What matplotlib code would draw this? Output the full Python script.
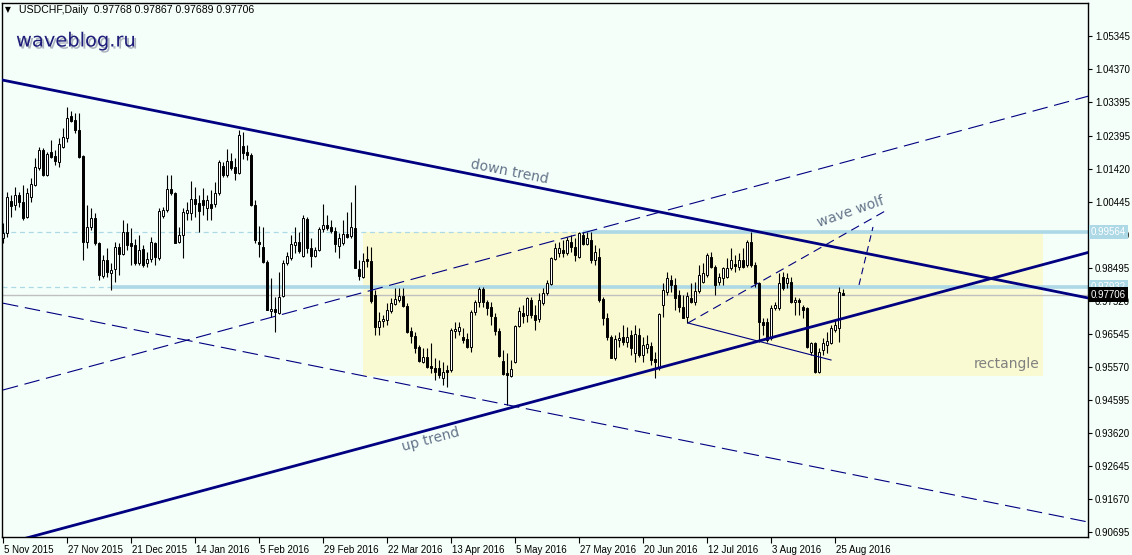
import matplotlib
matplotlib.use('Agg')
import matplotlib.pyplot as plt
import matplotlib.patheffects as pe
import matplotlib.transforms as mtransforms
from matplotlib.patches import Rectangle

# ---------------- data ----------------
symbol_header = "USDCHF,Daily  0.97768 0.97867 0.97689 0.97706"

opens = [
    0.9938, 0.9953, 1.0047, 1.0035, 1.0065, 1.0044, 1.0000, 1.0059, 1.0094, 1.0145,
    1.0198, 1.0124, 1.0192, 1.0180, 1.0162, 1.0207, 1.0233, 1.0298, 1.0286, 1.0257,
    1.0180, 0.9926, 0.9970, 0.9997, 0.9923, 0.9826, 0.9873, 0.9835, 0.9846, 0.9911,
    0.9891, 0.9956, 0.9923, 0.9917, 0.9864, 0.9905, 0.9864, 0.9876, 0.9923, 0.9879,
    1.0003, 1.0021, 1.0083, 1.0071, 0.9926, 0.9947, 1.0012, 1.0012, 1.0053, 1.0041,
    1.0050, 1.0027, 1.0038, 1.0038, 1.0071, 1.0151, 1.0124, 1.0165, 1.0148, 1.0130,
    1.0210, 1.0192, 1.0183, 1.0035, 0.9926, 0.9911, 0.9867, 0.9722, 0.9728, 0.9716,
    0.9767, 0.9864, 0.9879, 0.9917, 0.9926, 0.9885, 0.9994, 0.9908, 0.9885, 0.9902,
    0.9965, 0.9976, 0.9970, 0.9959, 0.9914, 0.9923, 0.9950, 0.9944, 0.9967, 0.9846,
    0.9823, 0.9876, 0.9870, 0.9770, 0.9675, 0.9693, 0.9696, 0.9722, 0.9743, 0.9755,
    0.9767, 0.9737, 0.9663, 0.9648, 0.9616, 0.9572, 0.9586, 0.9560, 0.9554, 0.9554,
    0.9524, 0.9548, 0.9548, 0.9663, 0.9663, 0.9645, 0.9640, 0.9616, 0.9719, 0.9749,
    0.9787, 0.9749, 0.9734, 0.9705, 0.9663, 0.9575, 0.9539, 0.9530, 0.9572, 0.9678,
    0.9716, 0.9710, 0.9755, 0.9710, 0.9699, 0.9746, 0.9775, 0.9802, 0.9876, 0.9894,
    0.9902, 0.9894, 0.9926, 0.9911, 0.9882, 0.9947, 0.9920, 0.9932, 0.9873, 0.9882,
    0.9758, 0.9702, 0.9646, 0.9583, 0.9637, 0.9646, 0.9631, 0.9651, 0.9598, 0.9651,
    0.9592, 0.9613, 0.9619, 0.9580, 0.9554, 0.9740, 0.9778, 0.9814, 0.9799, 0.9770,
    0.9734, 0.9705, 0.9761, 0.9749, 0.9781, 0.9808, 0.9829, 0.9882, 0.9852, 0.9808,
    0.9820, 0.9823, 0.9849, 0.9861, 0.9852, 0.9873, 0.9858, 0.9926, 0.9858, 0.9805,
    0.9690, 0.9690, 0.9643, 0.9731, 0.9731, 0.9823, 0.9805, 0.9808, 0.9749, 0.9755,
    0.9734, 0.9731, 0.9601, 0.9628, 0.9542, 0.9607, 0.9622, 0.9628, 0.9666, 0.9672,
    0.97768,
]
highs = [
    0.9982, 1.0074, 1.0065, 1.0088, 1.0074, 1.0094, 1.0086, 1.0115, 1.0174, 1.0207,
    1.0204, 1.0192, 1.0227, 1.0198, 1.0233, 1.0263, 1.0325, 1.0313, 1.0307, 1.0307,
    1.0183, 1.0035, 1.0027, 1.0012, 0.9926, 0.9888, 0.9908, 0.9864, 0.9926, 0.9923,
    0.9991, 0.9982, 0.9967, 0.9935, 0.9947, 0.9917, 0.9897, 0.9941, 0.9926, 1.0027,
    1.0030, 1.0124, 1.0124, 1.0074, 0.9970, 1.0027, 1.0044, 1.0106, 1.0088, 1.0065,
    1.0086, 1.0065, 1.0080, 1.0103, 1.0168, 1.0162, 1.0201, 1.0189, 1.0174, 1.0257,
    1.0251, 1.0213, 1.0189, 1.0050, 0.9973, 0.9970, 0.9873, 0.9820, 0.9764, 0.9838,
    0.9873, 0.9897, 0.9947, 0.9970, 0.9956, 1.0006, 1.0000, 0.9938, 0.9911, 0.9970,
    1.0038, 1.0006, 0.9991, 0.9970, 0.9953, 0.9991, 1.0015, 1.0044, 1.0094, 0.9873,
    0.9894, 0.9914, 0.9911, 0.9784, 0.9719, 0.9710, 0.9746, 0.9761, 0.9790, 0.9790,
    0.9790, 0.9746, 0.9675, 0.9660, 0.9622, 0.9613, 0.9613, 0.9628, 0.9583, 0.9578,
    0.9572, 0.9563, 0.9672, 0.9690, 0.9690, 0.9672, 0.9657, 0.9725, 0.9755, 0.9793,
    0.9793, 0.9755, 0.9749, 0.9716, 0.9672, 0.9607, 0.9598, 0.9578, 0.9681, 0.9734,
    0.9740, 0.9764, 0.9764, 0.9740, 0.9775, 0.9790, 0.9814, 0.9882, 0.9923, 0.9926,
    0.9932, 0.9941, 0.9947, 0.9938, 0.9956, 0.9956, 0.9956, 0.9956, 0.9917, 0.9908,
    0.9764, 0.9716, 0.9651, 0.9651, 0.9660, 0.9681, 0.9675, 0.9666, 0.9681, 0.9672,
    0.9646, 0.9651, 0.9631, 0.9601, 0.9716, 0.9805, 0.9838, 0.9829, 0.9820, 0.9784,
    0.9770, 0.9778, 0.9805, 0.9808, 0.9858, 0.9864, 0.9894, 0.9897, 0.9858, 0.9835,
    0.9852, 0.9879, 0.9908, 0.9888, 0.9894, 0.9908, 0.9932, 0.9956, 0.9867, 0.9808,
    0.9702, 0.9702, 0.9740, 0.9749, 0.9835, 0.9838, 0.9835, 0.9823, 0.9764, 0.9761,
    0.9740, 0.9734, 0.9631, 0.9631, 0.9613, 0.9643, 0.9660, 0.9681, 0.9696, 0.9793,
    0.97867,
]
lows = [
    0.9923, 0.9941, 1.0000, 1.0021, 1.0030, 0.9991, 0.9997, 1.0044, 1.0091, 1.0139,
    1.0121, 1.0121, 1.0174, 1.0154, 1.0148, 1.0204, 1.0221, 1.0281, 1.0248, 1.0174,
    0.9873, 0.9908, 0.9962, 0.9917, 0.9814, 0.9820, 0.9823, 0.9784, 0.9808, 0.9829,
    0.9888, 0.9902, 0.9858, 0.9858, 0.9858, 0.9852, 0.9852, 0.9867, 0.9858, 0.9873,
    0.9997, 1.0015, 1.0065, 0.9923, 0.9923, 0.9879, 0.9991, 0.9991, 1.0000, 0.9956,
    1.0006, 0.9991, 0.9991, 1.0030, 1.0065, 1.0118, 1.0118, 1.0139, 1.0109, 1.0127,
    1.0171, 1.0168, 1.0032, 0.9923, 0.9882, 0.9864, 0.9725, 0.9705, 0.9660, 0.9713,
    0.9764, 0.9858, 0.9873, 0.9894, 0.9894, 0.9882, 0.9894, 0.9852, 0.9882, 0.9900,
    0.9956, 0.9962, 0.9953, 0.9897, 0.9879, 0.9917, 0.9938, 0.9938, 0.9849, 0.9814,
    0.9820, 0.9852, 0.9746, 0.9651, 0.9651, 0.9675, 0.9681, 0.9716, 0.9740, 0.9749,
    0.9734, 0.9657, 0.9628, 0.9598, 0.9572, 0.9569, 0.9554, 0.9539, 0.9518, 0.9524,
    0.9504, 0.9498, 0.9542, 0.9643, 0.9651, 0.9628, 0.9613, 0.9601, 0.9710, 0.9734,
    0.9734, 0.9710, 0.9681, 0.9651, 0.9586, 0.9533, 0.9445, 0.9527, 0.9569, 0.9675,
    0.9687, 0.9690, 0.9702, 0.9666, 0.9690, 0.9740, 0.9770, 0.9799, 0.9873, 0.9882,
    0.9882, 0.9888, 0.9897, 0.9870, 0.9879, 0.9917, 0.9917, 0.9864, 0.9858, 0.9749,
    0.9681, 0.9637, 0.9583, 0.9578, 0.9616, 0.9622, 0.9616, 0.9592, 0.9572, 0.9586,
    0.9572, 0.9598, 0.9563, 0.9524, 0.9548, 0.9705, 0.9770, 0.9778, 0.9725, 0.9719,
    0.9702, 0.9687, 0.9746, 0.9740, 0.9775, 0.9805, 0.9823, 0.9849, 0.9770, 0.9799,
    0.9799, 0.9820, 0.9843, 0.9838, 0.9843, 0.9849, 0.9852, 0.9852, 0.9793, 0.9631,
    0.9651, 0.9631, 0.9637, 0.9725, 0.9725, 0.9784, 0.9790, 0.9746, 0.9710, 0.9710,
    0.9702, 0.9613, 0.9592, 0.9539, 0.9539, 0.9592, 0.9598, 0.9625, 0.9660, 0.9631,
    0.97689,
]
closes = [
    0.9953, 1.0059, 1.0032, 1.0065, 1.0044, 0.9997, 1.0071, 1.0097, 1.0148, 1.0198,
    1.0124, 1.0186, 1.0177, 1.0165, 1.0216, 1.0236, 1.0292, 1.0283, 1.0257, 1.0177,
    0.9926, 0.9970, 0.9997, 0.9923, 0.9829, 0.9873, 0.9838, 0.9843, 0.9911, 0.9891,
    0.9956, 0.9917, 0.9914, 0.9864, 0.9902, 0.9858, 0.9876, 0.9926, 0.9882, 1.0018,
    1.0021, 1.0083, 1.0071, 0.9923, 0.9947, 1.0015, 1.0021, 1.0053, 1.0038, 1.0018,
    1.0035, 1.0050, 1.0027, 1.0071, 1.0162, 1.0124, 1.0165, 1.0145, 1.0130, 1.0242,
    1.0189, 1.0183, 1.0035, 0.9932, 0.9920, 0.9867, 0.9725, 0.9728, 0.9719, 0.9764,
    0.9864, 0.9885, 0.9920, 0.9926, 0.9900, 0.9997, 0.9908, 0.9885, 0.9902, 0.9965,
    0.9976, 0.9967, 0.9959, 0.9920, 0.9938, 0.9950, 0.9941, 0.9970, 0.9849, 0.9826,
    0.9870, 0.9870, 0.9752, 0.9675, 0.9693, 0.9699, 0.9725, 0.9746, 0.9758, 0.9767,
    0.9737, 0.9660, 0.9648, 0.9613, 0.9575, 0.9586, 0.9557, 0.9554, 0.9542, 0.9533,
    0.9542, 0.9542, 0.9666, 0.9669, 0.9675, 0.9637, 0.9616, 0.9719, 0.9749, 0.9787,
    0.9749, 0.9731, 0.9708, 0.9663, 0.9589, 0.9536, 0.9533, 0.9551, 0.9678, 0.9722,
    0.9708, 0.9761, 0.9710, 0.9696, 0.9755, 0.9775, 0.9805, 0.9879, 0.9908, 0.9908,
    0.9894, 0.9932, 0.9911, 0.9888, 0.9953, 0.9920, 0.9938, 0.9873, 0.9897, 0.9755,
    0.9702, 0.9646, 0.9583, 0.9640, 0.9643, 0.9631, 0.9646, 0.9613, 0.9654, 0.9592,
    0.9622, 0.9625, 0.9578, 0.9572, 0.9713, 0.9784, 0.9820, 0.9799, 0.9761, 0.9734,
    0.9702, 0.9767, 0.9749, 0.9781, 0.9829, 0.9835, 0.9888, 0.9852, 0.9799, 0.9823,
    0.9849, 0.9849, 0.9873, 0.9855, 0.9873, 0.9852, 0.9926, 0.9858, 0.9805, 0.9690,
    0.9681, 0.9637, 0.9731, 0.9740, 0.9805, 0.9790, 0.9820, 0.9749, 0.9755, 0.9749,
    0.9725, 0.9616, 0.9628, 0.9542, 0.9601, 0.9628, 0.9634, 0.9672, 0.9681, 0.9778,
    0.97706,
]

x_tick_labels = ["5 Nov 2015", "27 Nov 2015", "21 Dec 2015", "14 Jan 2016", "5 Feb 2016",
                 "29 Feb 2016", "22 Mar 2016", "13 Apr 2016", "5 May 2016", "27 May 2016",
                 "20 Jun 2016", "12 Jul 2016", "3 Aug 2016", "25 Aug 2016"]
y_tick_values = [1.05345, 1.04370, 1.03395, 1.02395, 1.01420, 1.00445, 0.99470, 0.98495,
                 0.97520, 0.96545, 0.95570, 0.94595, 0.93620, 0.92645, 0.91670, 0.90695]

# levels / objects (bar index, price)
resist_level = 0.99564
support_level = 0.97932
bid_price = 0.97706
rect_x = [90, 260]
rect_y = [0.9531, 0.99564]
down_trend = [(0, 1.0404), (272, 0.9759)]
up_trend = [(0, 0.9033), (272, 0.98974)]
down_channel = [(0, 0.97453), (272, 0.90972)]
up_channel = [(0, 0.94889), (272, 1.03589)]
wolf_line = [(171.25, 0.96868), (207.0, 0.95775)]
wolf_dash = [(171.25, 0.96868), (221.0, 1.00206)]
wolf_target = [(214.0, 0.97991), (217.5, 0.99704)]

# ---------------- figure ----------------
FONT = 'Liberation Sans'
BG = '#F5FFFA'
NAVY = '#000080'
LBLUE = '#ADD8E6'
W, H = 1132, 555
fig = plt.figure(figsize=(W / 100, H / 100), dpi=100, facecolor=BG)
left, right, top, bottom = 2, 1088, 3, 537
ax = fig.add_axes([left / W, 1 - bottom / H, (right - left) / W, (bottom - top) / H], facecolor=BG)
ax.set_xlim(-0.25, (right - 3) / 4)
ax.set_ylim(0.90547, 1.06319)

# rectangle (background object)
ax.add_patch(Rectangle((rect_x[0], rect_y[0]), rect_x[1] - rect_x[0], rect_y[1] - rect_y[0],
                       facecolor='#FAFAD2', edgecolor='none', zorder=0.5))

# horizontal levels
ax.axhline(resist_level, color=LBLUE, lw=0.9, ls=(0, (4, 3)), zorder=1)
ax.axhline(support_level, color=LBLUE, lw=0.9, ls=(0, (4, 3)), zorder=1)
ax.plot([145, 300], [resist_level, resist_level], color=LBLUE, lw=2.6, zorder=1.2,
        solid_capstyle='butt')
ax.plot([27, 300], [support_level, support_level], color=LBLUE, lw=2.6, zorder=1.2,
        solid_capstyle='butt')
ax.axhline(bid_price, color='#C0C0C0', lw=1.0, zorder=1.1)

# candles
n = len(closes)
idx = list(range(n))
ax.vlines(idx, lows, highs, color='black', lw=0.8, zorder=2)
for i in idx:
    o, c = opens[i], closes[i]
    bot = min(o, c)
    hgt = max(abs(c - o), 0.00004)
    fc = 'white' if c >= o else 'black'
    ax.add_patch(Rectangle((i - 0.28, bot), 0.56, hgt, facecolor=fc, edgecolor='black',
                           lw=0.7, zorder=2.1))

# trend lines
def seg(pts, **kw):
    ax.plot([p[0] for p in pts], [p[1] for p in pts], **kw)

seg(down_trend, color=NAVY, lw=2.0, zorder=3)
seg(up_trend, color=NAVY, lw=2.0, zorder=3)
seg(down_channel, color=NAVY, lw=0.8, ls=(0, (14, 6)), zorder=3)
seg(up_channel, color=NAVY, lw=0.8, ls=(0, (14, 6)), zorder=3)
seg(wolf_line, color=NAVY, lw=0.8, zorder=3)
seg(wolf_dash, color=NAVY, lw=0.8, ls=(0, (8, 5)), zorder=3)
seg(wolf_target, color=NAVY, lw=0.8, ls=(0, (6, 4)), zorder=3)

# annotations
TXT = '#64748A'
ax.text(126.75, 1.0133, 'down trend', color=TXT, fontsize=10, rotation=-11.3,
        ha='center', va='center', rotation_mode='anchor', zorder=4)
ax.text(107.0, 0.9341, 'up trend', color=TXT, fontsize=10, rotation=15,
        ha='center', va='center', rotation_mode='anchor', zorder=4)
ax.text(212.0, 1.0015, 'wave wolf', color=TXT, fontsize=10, rotation=19,
        ha='center', va='center', rotation_mode='anchor', zorder=4)
ax.text(251.0, 0.9566, 'rectangle', color='#808080', fontsize=10,
        ha='center', va='center', zorder=4)

# axes styling
for s in ax.spines.values():
    s.set_color('black')
    s.set_linewidth(1.0)
ax.yaxis.tick_right()
ax.set_yticks(y_tick_values)
ax.set_yticklabels(['%.5f' % v for v in y_tick_values], fontfamily=FONT)
ax.tick_params(axis='y', direction='out', length=3, width=0.8, labelsize=7, pad=2,
               colors='black')
ax.set_xticks(list(range(0, 16 * len(x_tick_labels), 16)))
ax.set_xticklabels(x_tick_labels, ha='left', fontfamily=FONT)
ax.tick_params(axis='x', direction='out', length=4, width=0.8, labelsize=7, pad=2,
               colors='black')
for lab in ax.get_xticklabels():
    lab.set_transform(lab.get_transform() + mtransforms.ScaledTranslation(1 / 100, 0, fig.dpi_scale_trans))

# price boxes on the right axis
btrans = mtransforms.blended_transform_factory(ax.transAxes, ax.transData)
for val, fc in [(resist_level, LBLUE), (support_level, LBLUE), (bid_price, 'black')]:
    ax.text(1.0 + 3 / (right - left), val, '%.5f' % val, transform=btrans, fontsize=7,
            fontfamily=FONT, color='white', ha='left', va='center', clip_on=False, zorder=6,
            bbox=dict(boxstyle='square,pad=0.22', fc=fc, ec='none'))

# header and watermark
fig.text(5 / W, 1 - 10 / H, '\u25BC', fontsize=5.5, color='black', ha='left', va='center')
fig.text(19 / W, 1 - 10 / H, symbol_header, fontsize=7.6, fontfamily=FONT, color='black',
         ha='left', va='center')
fig.text(16 / W, 1 - 41 / H, 'waveblog.ru', fontsize=14, color='#1E1E7A', ha='left',
         va='center',
         path_effects=[pe.withSimplePatchShadow(offset=(1.5, -1.5), shadow_rgbFace='#9AA0B0', alpha=0.8)])

fig.savefig('out.png', dpi=100, facecolor=BG)
